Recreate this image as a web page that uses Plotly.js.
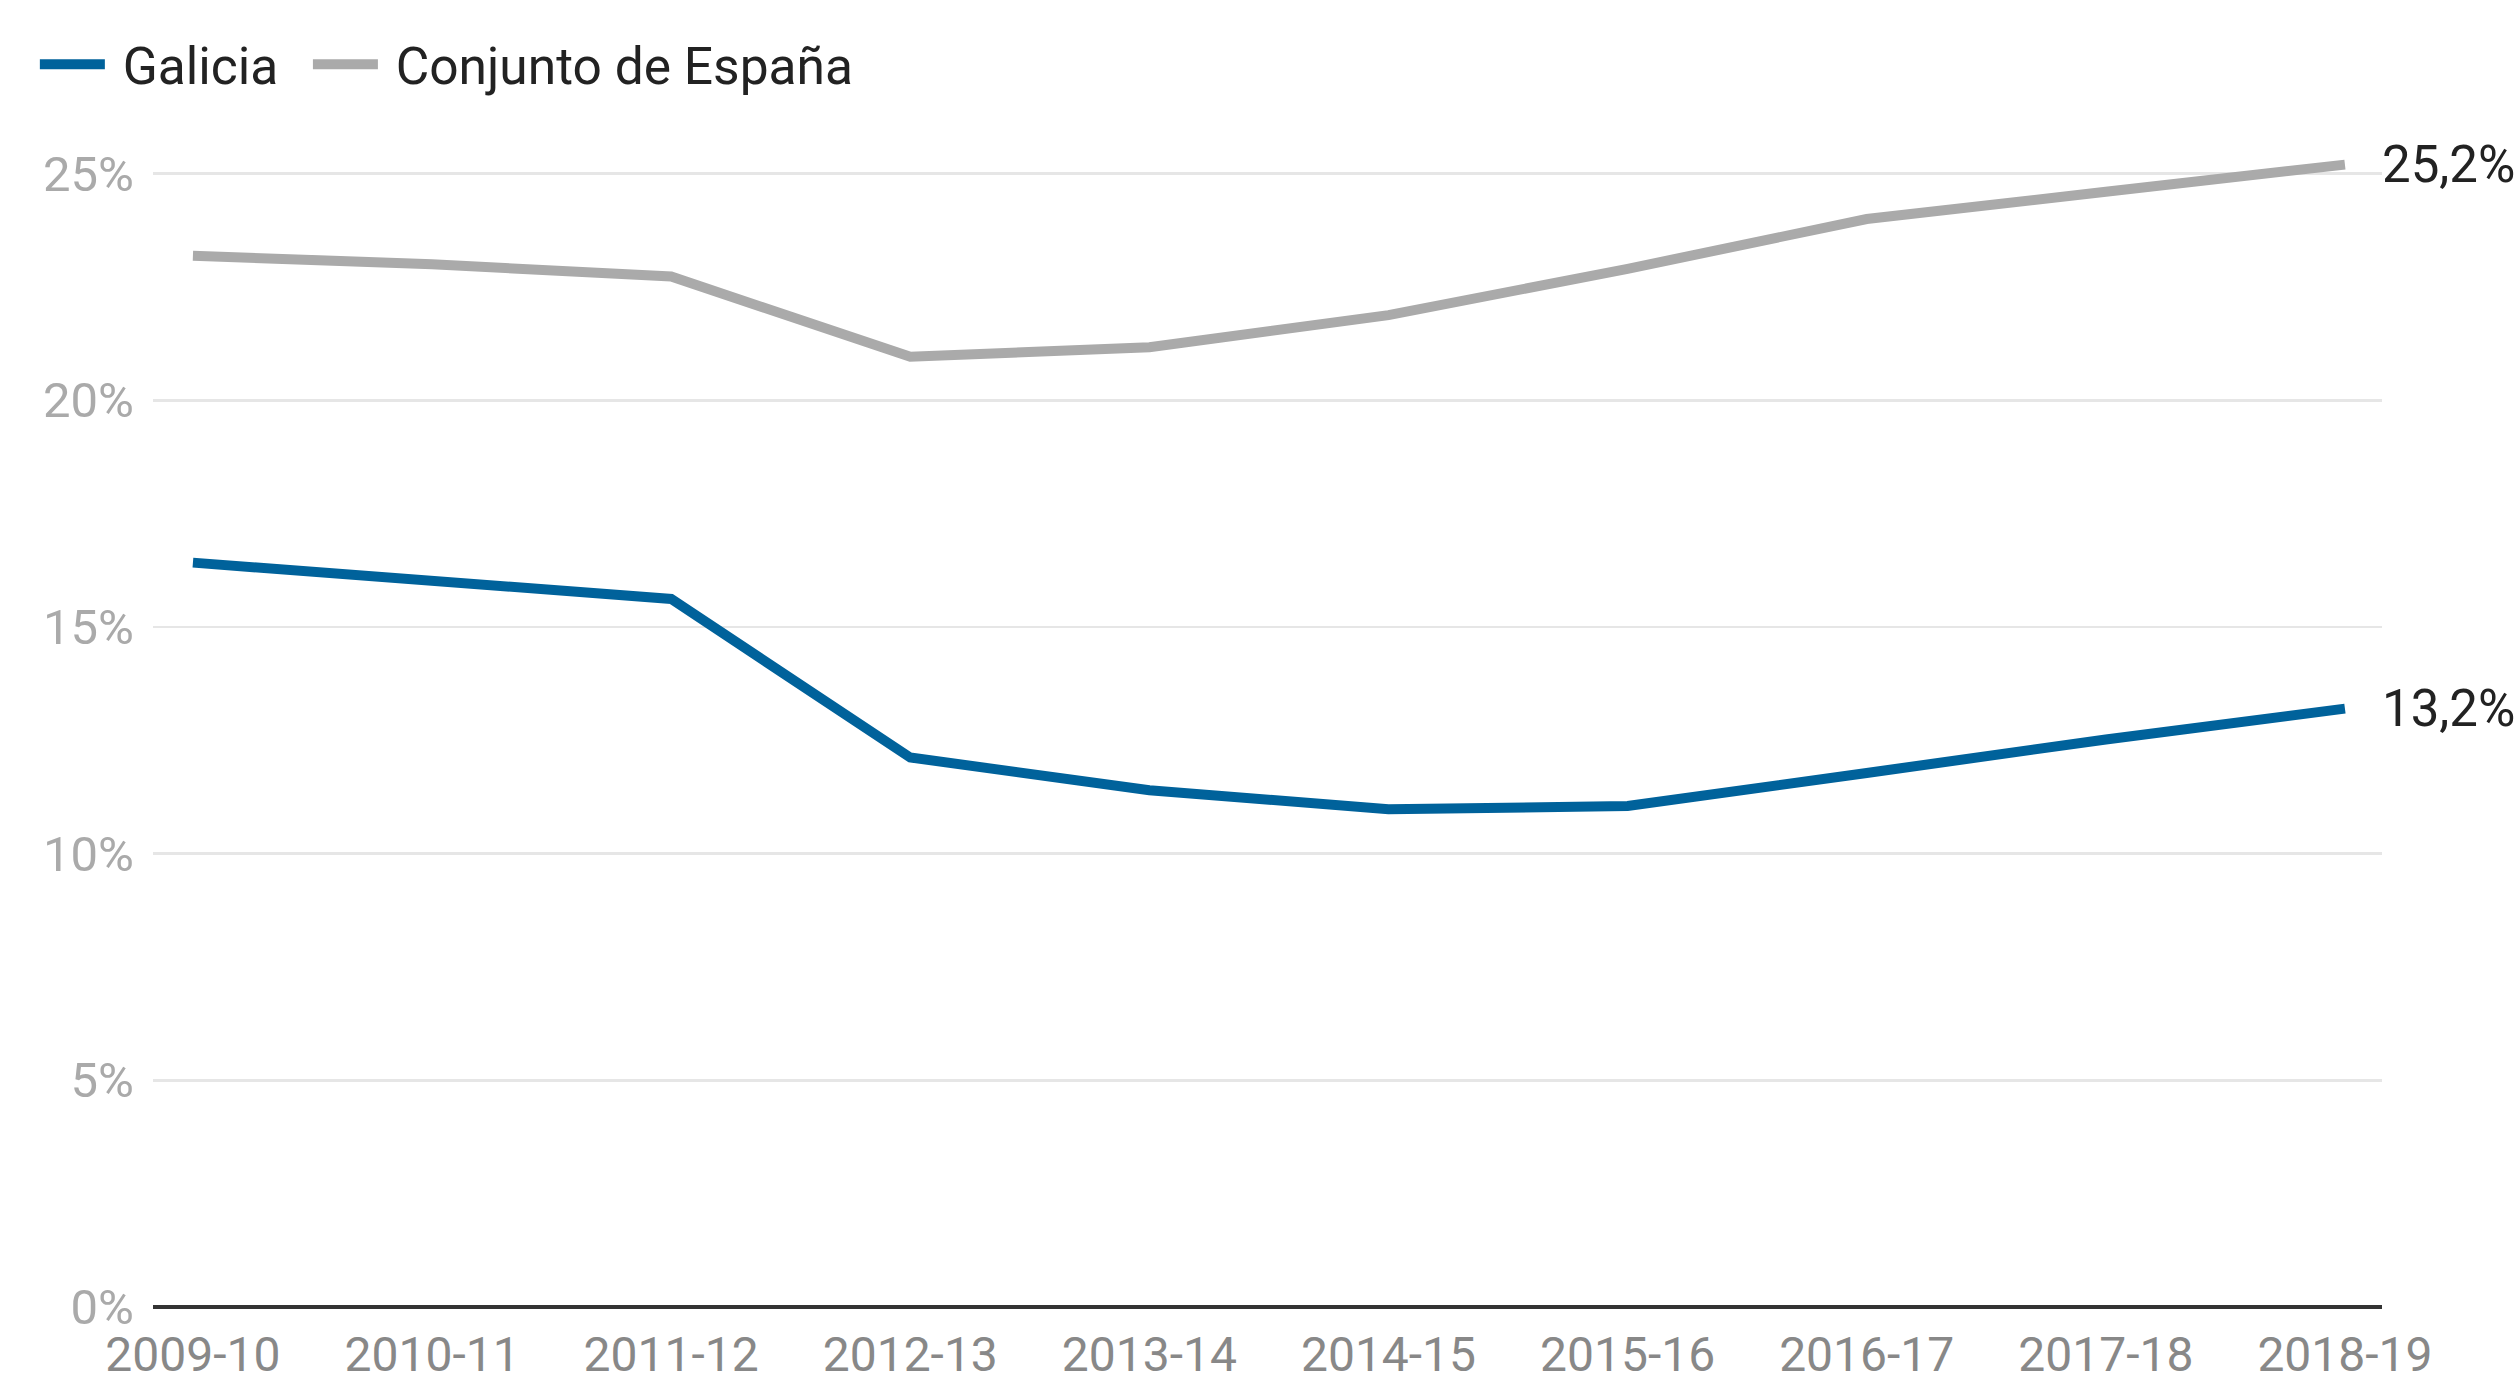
<!DOCTYPE html>
<html>
<head>
<meta charset="utf-8">
<script src="https://cdn.plot.ly/plotly-3.0.1.min.js"></script>
<style>
  html, body { margin: 0; padding: 0; background: #ffffff; }
  #chart { width: 2520px; height: 1385px; }
</style>
</head>
<body>
<div id="chart"></div>
<script>
const categories = ["2009-10", "2010-11", "2011-12", "2012-13", "2013-14", "2014-15", "2015-16", "2016-17", "2017-18", "2018-19"];
const galicia = [16.42, 16.03, 15.62, 12.12, 11.40, 10.98, 11.05, 11.78, 12.52, 13.2];
const espana = [23.19, 23.00, 22.73, 20.96, 21.17, 21.88, 22.90, 24.00, 24.60, 25.2];
const seriesNames = ["Galicia", "Conjunto de España"];
const endLabels = ["13,2%", "25,2%"];
const yTickVals = [0, 5, 10, 15, 20, 25];
const yTickText = ["0%", "5%", "10%", "15%", "20%", "25%"];

const blue = "#00629b";
const gray = "#aaaaaa";
const font = "Roboto, 'Noto Sans', sans-serif";

// legend labels: small leading gap between swatch and text, as in the original
const legendLabel = s => "\u00a0" + s;

const traces = [
  { x: categories, y: galicia, name: legendLabel(seriesNames[0]), type: "scatter", mode: "lines",
    line: { color: blue, width: 10 }, cliponaxis: false, hoverinfo: "skip", legend: "legend" },
  { x: categories, y: espana, name: legendLabel(seriesNames[1]), type: "scatter", mode: "lines",
    line: { color: gray, width: 10 }, cliponaxis: false, hoverinfo: "skip", legend: "legend2" }
];

const lastIdx = categories.length - 1;
const annotations = [
  { x: categories[lastIdx], y: galicia[lastIdx], text: endLabels[0] },
  { x: categories[lastIdx], y: espana[lastIdx], text: endLabels[1] }
].map(a => Object.assign(a, {
  xref: "x", yref: "y", showarrow: false, xanchor: "left", yanchor: "middle",
  xshift: 35, font: { family: font, size: 51, color: "#222222" }
}));

const legendBase = {
  orientation: "h", xanchor: "left", y: 1.075, yanchor: "middle",
  font: { family: font, size: 51.5, color: "#222222" },
  itemwidth: 65, tracegroupgap: 0, bgcolor: "rgba(0,0,0,0)"
};

const layout = {
  width: 2520, height: 1385,
  paper_bgcolor: "#ffffff", plot_bgcolor: "#ffffff",
  margin: { l: 153, r: 138, t: 151, b: 78, pad: 0 },
  font: { family: font },
  showlegend: true,
  legend: Object.assign({}, legendBase, { x: -0.053 }),
  legend2: Object.assign({}, legendBase, { x: 0.0695 }),
  xaxis: {
    type: "category",
    range: [-0.167, 9.155],
    showgrid: false, zeroline: false, showline: false,
    ticks: "", ticklabelstandoff: 15,
    tickfont: { family: font, size: 48, color: "#888888" },
    fixedrange: true
  },
  yaxis: {
    range: [0, 25.5],
    tickvals: yTickVals, ticktext: yTickText,
    showgrid: true, gridcolor: "#e6e6e6", gridwidth: 2.5,
    zeroline: true, zerolinecolor: "#333333", zerolinewidth: 3.5,
    showline: false, ticks: "", ticklabelstandoff: 18,
    tickfont: { family: font, size: 49, color: "#aaaaaa" },
    fixedrange: true
  },
  annotations: annotations
};

Plotly.newPlot("chart", traces, layout, { displayModeBar: false, staticPlot: true });
</script>
</body>
</html>
